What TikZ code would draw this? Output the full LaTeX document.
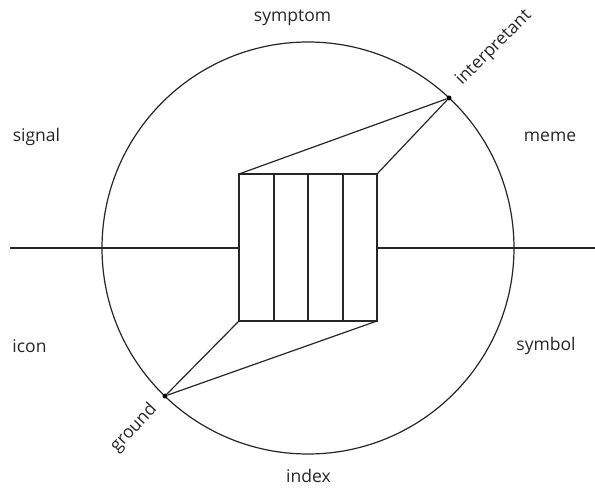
\documentclass[tikz,border=0pt]{standalone}
\usepackage{fontspec}
\setmainfont{Open Sans}
\begin{document}
\begin{tikzpicture}[x=1pt,y=-1pt,
  ln/.style={line width=1.2pt, draw=black!85},
  lbl/.style={font=\fontsize{17.5}{20}\selectfont, text=black!85, inner sep=0pt},
  dotc/.style={circle, fill=black, inner sep=0pt, minimum size=5pt}]
\useasboundingbox (0,0) rectangle (595,489);
\coordinate (c) at (308,248);
\draw[ln] (c) circle (206);
\coordinate (L) at (10,248);
\coordinate (R) at (595,248);
\coordinate (tl) at (239,174);
\coordinate (tr) at (377,174);
\coordinate (bl) at (239,321);
\coordinate (br) at (377,321);
\coordinate (ml) at (239,248);
\coordinate (mr) at (377,248);
\draw[ln] (tl) rectangle (br);
\foreach \x in {274,308,343}{\draw[ln] (\x,174) -- (\x,321);}
\draw[ln] (L) -- (ml);
\draw[ln] (mr) -- (R);
\node[dotc] (interp) at (449,98) {};
\node[dotc] (ground) at (165,396) {};
\draw[ln] (interp) -- (tl);
\draw[ln] (interp) -- (tr);
\draw[ln] (ground) -- (bl);
\draw[ln] (ground) -- (br);
\node[lbl, rotate=45] (interpL) at (494,48) {interpretant};
\node[lbl, rotate=47] (groundL) at (134,428) {ground};
\node[lbl] (symptom) at (292.5,18) {symptom};
\node[lbl] (signal) at (36.5,137) {signal};
\node[lbl] (meme) at (550,137) {meme};
\node[lbl] (icon) at (29.5,346) {icon};
\node[lbl] (symbol) at (546,346) {symbol};
\node[lbl] (index) at (308.5,476) {index};
\end{tikzpicture}
\end{document}
